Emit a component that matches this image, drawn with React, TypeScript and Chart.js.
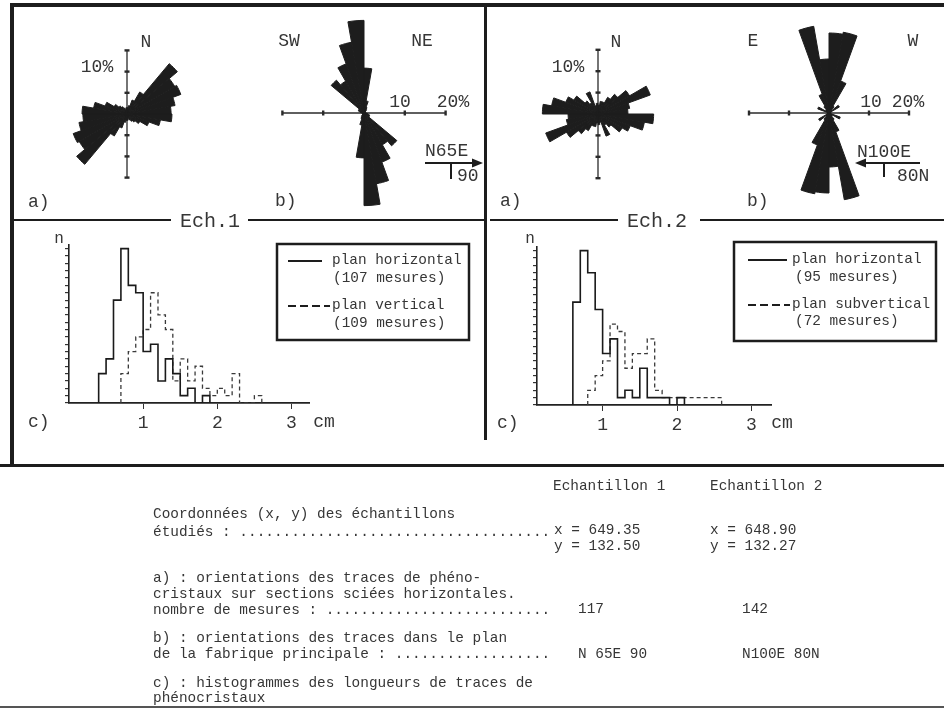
import React, { useEffect, useRef } from 'react';
import { Chart, registerables } from 'chart.js';

Chart.register(...registerables);

const MONO = '"Liberation Mono", "DejaVu Sans Mono", monospace';
const INK = '#1d1d1d';
const TEXT = '#363636';

// ---------- Rose diagrams: 10° azimuth classes from N clockwise (0–180°), % of measurements.
// Axial data: the same classes are repeated for 180–360°.
const roseClasses = ['0', '10', '20', '30', '40', '50', '60', '70', '80', '90', '100', '110', '120', '130', '140', '150', '160', '170'];
const ech1RoseA = [1.5, 2, 3.5, 6, 15.5, 13, 13.5, 11.5, 10.4, 10.6, 8, 5.5, 3.5, 2.5, 2, 1.5, 1, 1.5];
const ech1RoseB = [11, 3, 1.5, 1, 0.5, 0.5, 0.5, 0.5, 0.5, 0.5, 1, 1.5, 1.5, 10.5, 9, 12.8, 17.6, 22.7];
const ech2RoseA = [2, 3, 3, 4.5, 6, 8.5, 13, 7.5, 7, 13, 11, 8, 6.5, 4, 3, 5.5, 2, 2.5];
const ech2RoseB = [20, 20.5, 8.5, 2, 1, 3, 0.5, 0.5, 0.5, 0.5, 0.5, 3, 1, 1, 2, 5, 22, 13.5];
const roseATicks = [5, 10, 15];
const roseBTicks = [10, 20];

// ---------- Histograms: 0.1 cm length classes (lower bound, cm) and counts
const histClassWidth = 0.1;
const ech1HorizClasses = [0.4, 0.5, 0.6, 0.7, 0.8, 0.9, 1.0, 1.1, 1.2, 1.3, 1.4, 1.5, 1.6, 1.7, 1.8];
const ech1HorizCounts = [4, 6, 14, 21, 16, 15, 7, 8, 3, 6, 4, 1, 2, 0, 1];
const ech1VertClasses = [0.7, 0.8, 0.9, 1.0, 1.1, 1.2, 1.3, 1.4, 1.5, 1.6, 1.7, 1.8, 1.9, 2.0, 2.1, 2.2, 2.3, 2.4, 2.5];
const ech1VertCounts = [4, 7, 9, 10, 15, 12, 10, 3, 6, 3, 5, 2, 1, 2, 1, 4, 0, 0, 1];
const ech2HorizClasses = [0.6, 0.7, 0.8, 0.9, 1.0, 1.1, 1.2, 1.3, 1.4, 1.5, 1.6, 1.7, 1.8, 1.9, 2.0];
const ech2HorizCounts = [14, 21, 18, 13, 7, 9, 1, 2, 1, 5, 1, 1, 1, 0, 1];
const ech2SubvertClasses = [0.8, 0.9, 1.0, 1.1, 1.2, 1.3, 1.4, 1.5, 1.6, 1.7, 1.8, 1.9, 2.0, 2.1, 2.2, 2.3, 2.4, 2.5];
const ech2SubvertCounts = [2, 4, 6, 11, 10, 5, 7, 7, 9, 2, 1, 1, 1, 1, 1, 1, 1, 1];
const histXTicks = [1, 2, 3];
const histYTicks = [0, 1, 2, 3, 4, 5, 6, 7, 8, 9, 10, 11, 12, 13, 14, 15, 16, 17, 18, 19, 20, 21];

function makeRoseAxis(orient: string, extent: number, ticks: number[]) {
  return {
    id: 'roseAxis',
    beforeDatasetsDraw(chart: any) {
      const s = chart.scales.r;
      const ctx = chart.ctx;
      const cx = s.xCenter;
      const cy = s.yCenter;
      const ext = s.getDistanceFromCenterForValue(extent);
      ctx.save();
      ctx.strokeStyle = '#2a2a2a';
      ctx.lineWidth = 1.3;
      ctx.beginPath();
      if (orient === 'v') {
        ctx.moveTo(cx, cy - ext);
        ctx.lineTo(cx, cy + ext);
      } else {
        ctx.moveTo(cx - ext, cy);
        ctx.lineTo(cx + ext, cy);
      }
      ctx.stroke();
      ctx.lineWidth = 2.4;
      for (const t of ticks) {
        const d = s.getDistanceFromCenterForValue(t);
        for (const sg of [-1, 1]) {
          ctx.beginPath();
          if (orient === 'v') {
            ctx.moveTo(cx - 2.5, cy + sg * d);
            ctx.lineTo(cx + 2.5, cy + sg * d);
          } else {
            ctx.moveTo(cx + sg * d, cy - 2.5);
            ctx.lineTo(cx + sg * d, cy + 2.5);
          }
          ctx.stroke();
        }
      }
      ctx.restore();
    },
  };
}

function Rose({ values, cx, cy, half, max, orient, extent, ticks }: any) {
  const ref = useRef<HTMLCanvasElement>(null);
  useEffect(() => {
    const data = [...values, ...values];
    const labels = [...roseClasses, ...roseClasses.map((c) => String(Number(c) + 180))];
    const chart = new Chart(ref.current as HTMLCanvasElement, {
      type: 'polarArea',
      data: {
        labels,
        datasets: [{ data, backgroundColor: INK, borderColor: INK, borderWidth: 1 }],
      },
      options: {
        responsive: false,
        animation: false,
        startAngle: 0,
        layout: { padding: 0 },
        plugins: { legend: { display: false }, tooltip: { enabled: false } },
        scales: { r: { display: false, min: 0, max } },
      } as any,
      plugins: [makeRoseAxis(orient, extent, ticks)],
    });
    return () => chart.destroy();
  }, []);
  return (
    <canvas
      ref={ref}
      width={half * 2}
      height={half * 2}
      style={{ position: 'absolute', left: cx - half, top: cy - half }}
    />
  );
}

function stepPoints(classes: number[], counts: number[]) {
  const pts: { x: number; y: number }[] = [];
  classes.forEach((s, i) => {
    pts.push({ x: s, y: i === 0 ? 0 : counts[i - 1] });
    pts.push({ x: s, y: counts[i] });
  });
  const end = classes[classes.length - 1] + histClassWidth;
  pts.push({ x: end, y: counts[counts.length - 1] });
  pts.push({ x: end, y: 0 });
  return pts;
}

function Hist({ left, top, width, height, xMin, xMax, solid, dashed }: any) {
  const ref = useRef<HTMLCanvasElement>(null);
  useEffect(() => {
    const chart = new Chart(ref.current as HTMLCanvasElement, {
      type: 'line',
      data: {
        datasets: [
          {
            data: stepPoints(solid[0], solid[1]),
            borderColor: '#1a1a1a',
            borderWidth: 1.6,
            pointRadius: 0,
            fill: false,
            tension: 0,
          },
          {
            data: stepPoints(dashed[0], dashed[1]),
            borderColor: '#3a3a3a',
            borderWidth: 1.3,
            borderDash: [4, 3],
            pointRadius: 0,
            fill: false,
            tension: 0,
          },
        ],
      },
      options: {
        responsive: false,
        animation: false,
        layout: { padding: { top: 10, left: 0, right: 0, bottom: 0 } },
        plugins: { legend: { display: false }, tooltip: { enabled: false } },
        scales: {
          x: {
            type: 'linear',
            min: xMin,
            max: xMax,
            afterBuildTicks: (s: any) => {
              s.ticks = histXTicks.map((v) => ({ value: v }));
            },
            afterFit: (s: any) => {
              s.height = 40;
            },
            grid: { drawOnChartArea: false, drawTicks: true, tickLength: 6, color: '#333' },
            border: { display: true, color: '#222', width: 1.8 },
            ticks: { color: TEXT, font: { family: MONO, size: 18 }, padding: 3, maxRotation: 0, autoSkip: false },
          },
          y: {
            type: 'linear',
            min: 0,
            max: 21.5,
            afterBuildTicks: (s: any) => {
              s.ticks = histYTicks.map((v) => ({ value: v }));
            },
            afterFit: (s: any) => {
              s.width = 38;
            },
            grid: { drawOnChartArea: false, drawTicks: true, tickLength: 4, color: '#333', lineWidth: 1.2 },
            border: { display: true, color: '#222', width: 1.6 },
            ticks: { display: false },
          },
        },
      } as any,
    });
    return () => chart.destroy();
  }, []);
  return (
    <canvas ref={ref} width={width} height={height} style={{ position: 'absolute', left, top }} />
  );
}

function Txt({ x, y, s = 18, c = TEXT, center = false, children }: any) {
  return (
    <div
      style={{
        position: 'absolute',
        left: x,
        top: y - s * 0.6,
        fontFamily: MONO,
        fontSize: s,
        lineHeight: `${s * 1.2}px`,
        color: c,
        whiteSpace: 'pre',
        transform: center ? 'translateX(-50%)' : undefined,
      }}
    >
      {children}
    </div>
  );
}

const dots = (n: number) => '.'.repeat(n);

export default function App() {
  const fs = 14.4;
  return (
    <div style={{ position: 'absolute', left: 0, top: 0, width: 944, height: 710, background: '#fff', overflow: 'hidden' }}>
      {/* Ech.1 roses */}
      <Rose values={ech1RoseA} cx={127} cy={114} half={106} max={25} orient="v" extent={15} ticks={roseATicks} />
      <Rose values={ech1RoseB} cx={364} cy={113} half={102} max={25} orient="h" extent={20} ticks={roseBTicks} />
      {/* Ech.2 roses */}
      <Rose values={ech2RoseA} cx={598} cy={114} half={107} max={25} orient="v" extent={15} ticks={roseATicks} />
      <Rose values={ech2RoseB} cx={829} cy={113} half={100} max={25} orient="h" extent={20} ticks={roseBTicks} />

      {/* Histograms */}
      <Hist left={31} top={235} width={279} height={208} xMin={0} xMax={3.25}
        solid={[ech1HorizClasses, ech1HorizCounts]} dashed={[ech1VertClasses, ech1VertCounts]} />
      <Hist left={499} top={237} width={273} height={208} xMin={0.118} xMax={3.277}
        solid={[ech2HorizClasses, ech2HorizCounts]} dashed={[ech2SubvertClasses, ech2SubvertCounts]} />

      <svg width={944} height={710} style={{ position: 'absolute', left: 0, top: 0 }}>
        {/* frame */}
        <rect x={10} y={3} width={934} height={4} fill={INK} />
        <rect x={10} y={3} width={4} height={464} fill={INK} />
        <rect x={484} y={5} width={3} height={435} fill={INK} />
        <rect x={14} y={219} width={157} height={2} fill={INK} />
        <rect x={248} y={219} width={236} height={2} fill={INK} />
        <rect x={490} y={219} width={128} height={2} fill={INK} />
        <rect x={700} y={219} width={244} height={2} fill={INK} />
        <rect x={0} y={464} width={944} height={3} fill={INK} />
        <rect x={0} y={706} width={944} height={2} fill="#555" />

        {/* legend boxes */}
        <rect x={277} y={244} width={192} height={96} fill="#fff" stroke={INK} strokeWidth={2.5} />
        <line x1={288} y1={261} x2={322} y2={261} stroke={INK} strokeWidth={2} />
        <line x1={288} y1={306} x2={330} y2={306} stroke={INK} strokeWidth={2} strokeDasharray="8 4" />
        <rect x={734} y={242} width={202} height={99} fill="#fff" stroke={INK} strokeWidth={2.5} />
        <line x1={748} y1={260} x2={787} y2={260} stroke={INK} strokeWidth={2} />
        <line x1={748} y1={305} x2={790} y2={305} stroke={INK} strokeWidth={2} strokeDasharray="8 4" />

        {/* fabric plane arrows */}
        <line x1={425} y1={163} x2={476} y2={163} stroke={INK} strokeWidth={2} />
        <polygon points="483,163 472,158.5 472,167.5" fill={INK} />
        <line x1={451} y1={163} x2={451} y2={179} stroke={INK} strokeWidth={2} />
        <line x1={864} y1={163} x2={920} y2={163} stroke={INK} strokeWidth={2} />
        <polygon points="855,163 866,158.5 866,167.5" fill={INK} />
        <line x1={884} y1={163} x2={884} y2={177} stroke={INK} strokeWidth={2} />
      </svg>

      {/* Ech.1 labels */}
      <Txt x={146} y={43} center>N</Txt>
      <Txt x={97} y={68} center>10%</Txt>
      <Txt x={289} y={42} center>SW</Txt>
      <Txt x={422} y={42} center>NE</Txt>
      <Txt x={400} y={103} center>10</Txt>
      <Txt x={453} y={103} center>20%</Txt>
      <Txt x={425} y={152}>N65E</Txt>
      <Txt x={457} y={177}>90</Txt>
      <Txt x={28} y={203}>a)</Txt>
      <Txt x={275} y={202}>b)</Txt>
      <Txt x={210} y={222} s={20} center>Ech.1</Txt>
      <Txt x={59} y={240} s={16} center>n</Txt>
      <Txt x={28} y={423}>c)</Txt>
      <Txt x={324} y={423} center>cm</Txt>
      <Txt x={332} y={261} s={fs}>plan horizontal</Txt>
      <Txt x={333} y={279} s={fs}>(107 mesures)</Txt>
      <Txt x={332} y={306} s={fs}>plan vertical</Txt>
      <Txt x={333} y={324} s={fs}>(109 mesures)</Txt>

      {/* Ech.2 labels */}
      <Txt x={616} y={43} center>N</Txt>
      <Txt x={568} y={68} center>10%</Txt>
      <Txt x={753} y={42} center>E</Txt>
      <Txt x={913} y={42} center>W</Txt>
      <Txt x={871} y={103} center>10</Txt>
      <Txt x={908} y={103} center>20%</Txt>
      <Txt x={857} y={153}>N100E</Txt>
      <Txt x={897} y={177}>80N</Txt>
      <Txt x={500} y={202}>a)</Txt>
      <Txt x={747} y={202}>b)</Txt>
      <Txt x={657} y={222} s={20} center>Ech.2</Txt>
      <Txt x={530} y={240} s={16} center>n</Txt>
      <Txt x={497} y={424}>c)</Txt>
      <Txt x={782} y={424} center>cm</Txt>
      <Txt x={792} y={260} s={fs}>plan horizontal</Txt>
      <Txt x={795} y={278} s={fs}>(95 mesures)</Txt>
      <Txt x={792} y={305} s={fs}>plan subvertical</Txt>
      <Txt x={795} y={322} s={fs}>(72 mesures)</Txt>

      {/* bottom table */}
      <Txt x={553} y={487} s={fs}>Echantillon 1</Txt>
      <Txt x={710} y={487} s={fs}>Echantillon 2</Txt>
      <Txt x={153} y={515} s={fs}>Coordonnées (x, y) des échantillons</Txt>
      <Txt x={153} y={533} s={fs}>{'étudiés : ' + dots(36)}</Txt>
      <Txt x={554} y={531} s={fs}>x = 649.35</Txt>
      <Txt x={554} y={547} s={fs}>y = 132.50</Txt>
      <Txt x={710} y={531} s={fs}>x = 648.90</Txt>
      <Txt x={710} y={547} s={fs}>y = 132.27</Txt>
      <Txt x={153} y={579} s={fs}>a) : orientations des traces de phéno-</Txt>
      <Txt x={153} y={595} s={fs}>cristaux sur sections sciées horizontales.</Txt>
      <Txt x={153} y={611} s={fs}>{'nombre de mesures : ' + dots(26)}</Txt>
      <Txt x={578} y={610} s={fs}>117</Txt>
      <Txt x={742} y={610} s={fs}>142</Txt>
      <Txt x={153} y={639} s={fs}>b) : orientations des traces dans le plan</Txt>
      <Txt x={153} y={655} s={fs}>{'de la fabrique principale : ' + dots(18)}</Txt>
      <Txt x={578} y={655} s={fs}>N 65E 90</Txt>
      <Txt x={742} y={655} s={fs}>N100E 80N</Txt>
      <Txt x={153} y={684} s={fs}>c) : histogrammes des longueurs de traces de</Txt>
      <Txt x={153} y={699} s={fs}>phénocristaux</Txt>
    </div>
  );
}
